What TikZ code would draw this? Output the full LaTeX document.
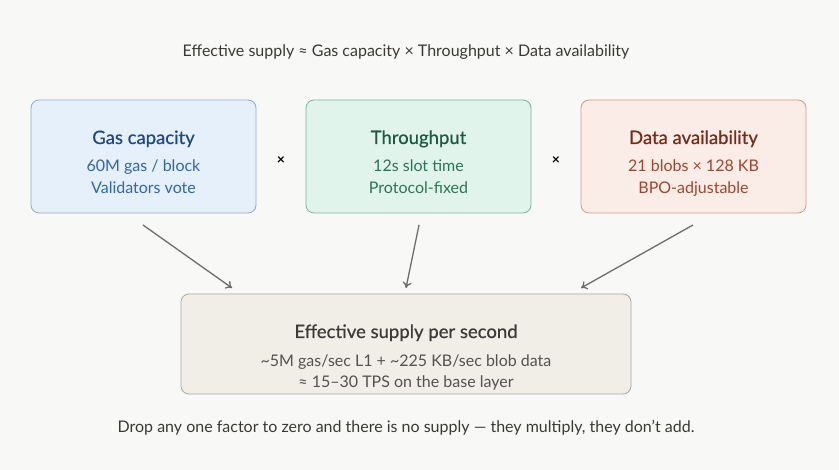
\documentclass[tikz,border=0pt]{standalone}
\usepackage{fontspec}
\setmainfont{Lato}
\newfontfamily\semib[FakeBold=0.6]{Lato}
\usetikzlibrary{arrows.meta}
\definecolor{bg}{HTML}{F8F8F6}
\definecolor{bAfill}{HTML}{E6F0FA}\definecolor{bAdraw}{HTML}{86ABD8}\definecolor{bAtitle}{HTML}{1E4A82}\definecolor{bAtext}{HTML}{2E66AC}
\definecolor{bBfill}{HTML}{E1F4EC}\definecolor{bBdraw}{HTML}{72B89D}\definecolor{bBtitle}{HTML}{1C5A44}\definecolor{bBtext}{HTML}{2A7558}
\definecolor{bCfill}{HTML}{FAECE6}\definecolor{bCdraw}{HTML}{D39A86}\definecolor{bCtitle}{HTML}{742C1B}\definecolor{bCtext}{HTML}{A0452B}
\definecolor{bDfill}{HTML}{F1EEE8}\definecolor{bDdraw}{HTML}{ABA79F}\definecolor{bDtitle}{HTML}{3C3B38}\definecolor{bDtext}{HTML}{54524D}
\definecolor{arr}{HTML}{6E6D69}
\definecolor{txt}{HTML}{3A3936}
\tikzset{
  box/.style={rounded corners=8pt, line width=0.8pt, minimum width=225pt, minimum height=113pt, inner sep=0pt},
  conn/.style={draw=arr, line width=1.3pt, -{To[length=6pt,width=9pt]}},
  ttl/.style={anchor=base, inner sep=0pt, font=\semib\fontsize{18.5}{20}\selectfont},
  sub/.style={anchor=base, inner sep=0pt, font=\fontsize{16}{18}\selectfont},
  plain/.style={anchor=base, inner sep=0pt, text=txt, font=\fontsize{16}{18}\selectfont},
  times/.style={font=\bfseries\fontsize{14}{14}\selectfont, text=black}
}
\begin{document}
\begin{tikzpicture}[x=1pt,y=-1pt]
\fill[bg] (0,0) rectangle (839,470);
\useasboundingbox (0,0) rectangle (839,470);
\node[plain] (head) at (406,57) {Effective supply ≈ Gas capacity × Throughput × Data availability};
\node[box, fill=bAfill, draw=bAdraw] (gas) at (143.5,156.5) {};
\node[box, fill=bBfill, draw=bBdraw] (thr) at (418.5,156.5) {};
\node[box, fill=bCfill, draw=bCdraw] (da) at (693.5,156.5) {};
\node[ttl, text=bAtitle] (gasT) at (143.5,144) {Gas capacity};
\node[sub, text=bAtext] (gasA) at (143.5,171.5) {60M gas / block};
\node[sub, text=bAtext] (gasB) at (143.5,194) {Validators vote};
\node[ttl, text=bBtitle] (thrT) at (418.5,144) {Throughput};
\node[sub, text=bBtext] (thrA) at (418.5,171.5) {12s slot time};
\node[sub, text=bBtext] (thrB) at (418.5,194) {Protocol-fixed};
\node[ttl, text=bCtitle] (daT) at (693.5,144) {Data availability};
\node[sub, text=bCtext] (daA) at (693.5,171.5) {21 blobs × 128 KB};
\node[sub, text=bCtext] (daB) at (693.5,194) {BPO-adjustable};
\node[times] (x1) at (281,161) {×};
\node[times] (x2) at (556,161) {×};
\node[box, minimum width=450pt, minimum height=100pt, fill=bDfill, draw=bDdraw] (eff) at (406,344) {};
\node[ttl, text=bDtitle] (effT) at (406,338) {Effective supply per second};
\node[sub, text=bDtext] (effA) at (406,367) {\textasciitilde5M gas/sec L1 + \textasciitilde225 KB/sec blob data};
\node[sub, text=bDtext] (effB) at (406,387.5) {≈ 15–30 TPS on the base layer};
\coordinate (s1) at (143,225); \coordinate (e1) at (232,288);
\coordinate (s2) at (419,225); \coordinate (e2) at (406,288);
\coordinate (s3) at (693,225); \coordinate (e3) at (581,288);
\draw[conn] (s1) -- (e1);
\draw[conn] (s2) -- (e2);
\draw[conn] (s3) -- (e3);
\node[plain] (foot) at (406,433) {Drop any one factor to zero and there is no supply — they multiply, they don’t add.};
\end{tikzpicture}
\end{document}
